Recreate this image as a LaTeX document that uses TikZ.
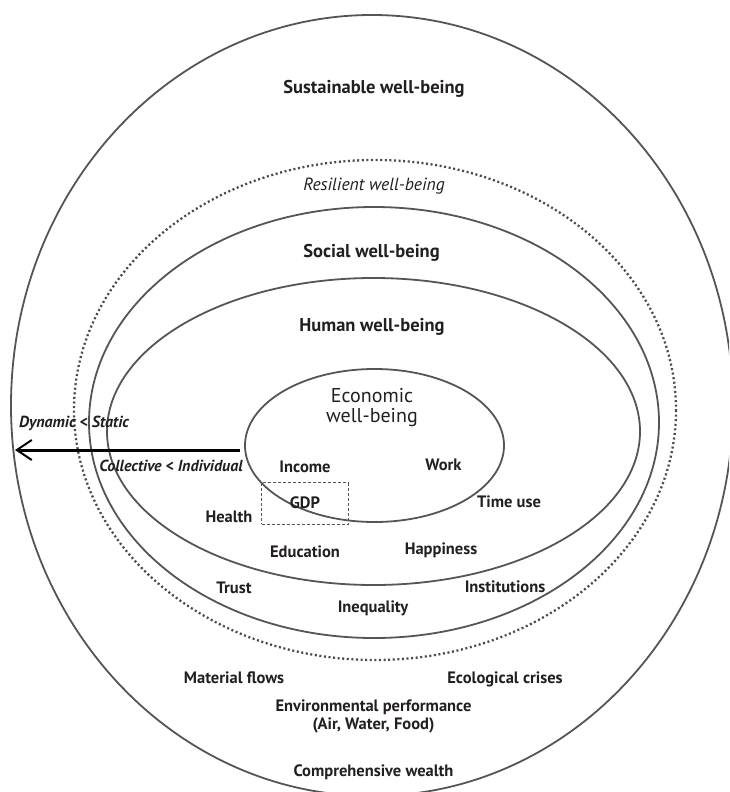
\documentclass[tikz,border=0pt]{standalone}
\usepackage{fontspec}
\setmainfont{PT Sans}
\usetikzlibrary{arrows.meta}
\definecolor{ringcol}{HTML}{555555}
\definecolor{dotcol}{HTML}{4A4A4A}
\definecolor{txt}{HTML}{231F20}
\tikzset{
  ring/.style={draw=ringcol, line width=1.8pt},
  dotring/.style={draw=dotcol, line width=2.3pt, dash pattern=on 2pt off 2.6pt},
  big/.style={text=txt, font=\fontsize{18.5}{21}\selectfont\bfseries, inner sep=0pt},
  econ/.style={text=txt, font=\fontsize{20}{23}\selectfont, inner sep=0pt, align=center},
  small/.style={text=txt, font=\fontsize{16.5}{18}\selectfont\bfseries, inner sep=0pt, align=center},
  itl/.style={text=txt, font=\fontsize{16}{18}\selectfont\bfseries\itshape, inner sep=0pt},
  resil/.style={text=txt, font=\fontsize{17.6}{20}\selectfont\itshape, inner sep=0pt},
  gdpbox/.style={draw=ringcol, line width=0.8pt, dash pattern=on 3pt off 2pt},
  bigarrow/.style={draw=black, line width=3pt, -{Straight Barb[length=15pt,width=20pt,line width=2pt]}}
}
\begin{document}
\begin{tikzpicture}[x=1pt,y=-1pt]
\useasboundingbox (0,0) rectangle (729,792);
\clip (0,0) rectangle (729,792);
% rings
\draw[ring] (372,405.5) ellipse [x radius=361, y radius=390.5];
\draw[dotring] (375,410) ellipse [x radius=301, y radius=250];
\draw[ring] (374,422.5) ellipse [x radius=285, y radius=215.5];
\draw[ring] (373.5,431.5) ellipse [x radius=266.5, y radius=153.5];
\draw[ring] (374.5,445.5) ellipse [x radius=129.5, y radius=76.5];
% GDP box
\node[gdpbox, minimum width=86.6pt, minimum height=41.3pt, inner sep=0pt] (gdpframe) at (305,503.4) {};
% arrow
\coordinate (astart) at (240,450);
\coordinate (aend) at (15,450);
\draw[bigarrow] (astart) -- (aend);
% labels
\node[big] (sust) at (374,89) {Sustainable well-being};
\node[resil] (resil) at (374,186) {Resilient well-being};
\node[big] (social) at (371.5,253) {Social well-being};
\node[big] (human) at (372,327) {Human well-being};
\node[econ] (econ) at (372,408) {Economic\\[-3pt] well-being};
\node[itl] (dyn) at (74,423) {Dynamic {\normalfont\bfseries\itshape<} Static};
\node[itl] (coll) at (171,466) {Collective {\normalfont\bfseries\itshape<} Individual};
\node[small] (income) at (305,467) {Income};
\node[small] (work) at (443.5,465) {Work};
\node[small] (gdp) at (305,503) {GDP};
\node[small] (timeuse) at (509,502) {Time use};
\node[small] (health) at (229,517) {Health};
\node[small] (edu) at (305,552) {Education};
\node[small] (happy) at (441,550) {Happiness};
\node[small] (trust) at (234,588) {Trust};
\node[small] (inst) at (505,587) {Institutions};
\node[small] (ineq) at (373,608) {Inequality};
\node[small] (matfl) at (234,678) {Material flows};
\node[small] (eco) at (505,679) {Ecological crises};
\node[small] (env) at (373.5,716.5) {Environmental performance\\[0pt] (Air, Water, Food)};
\node[small] (wealth) at (373.5,772) {Comprehensive wealth};
\end{tikzpicture}
\end{document}
